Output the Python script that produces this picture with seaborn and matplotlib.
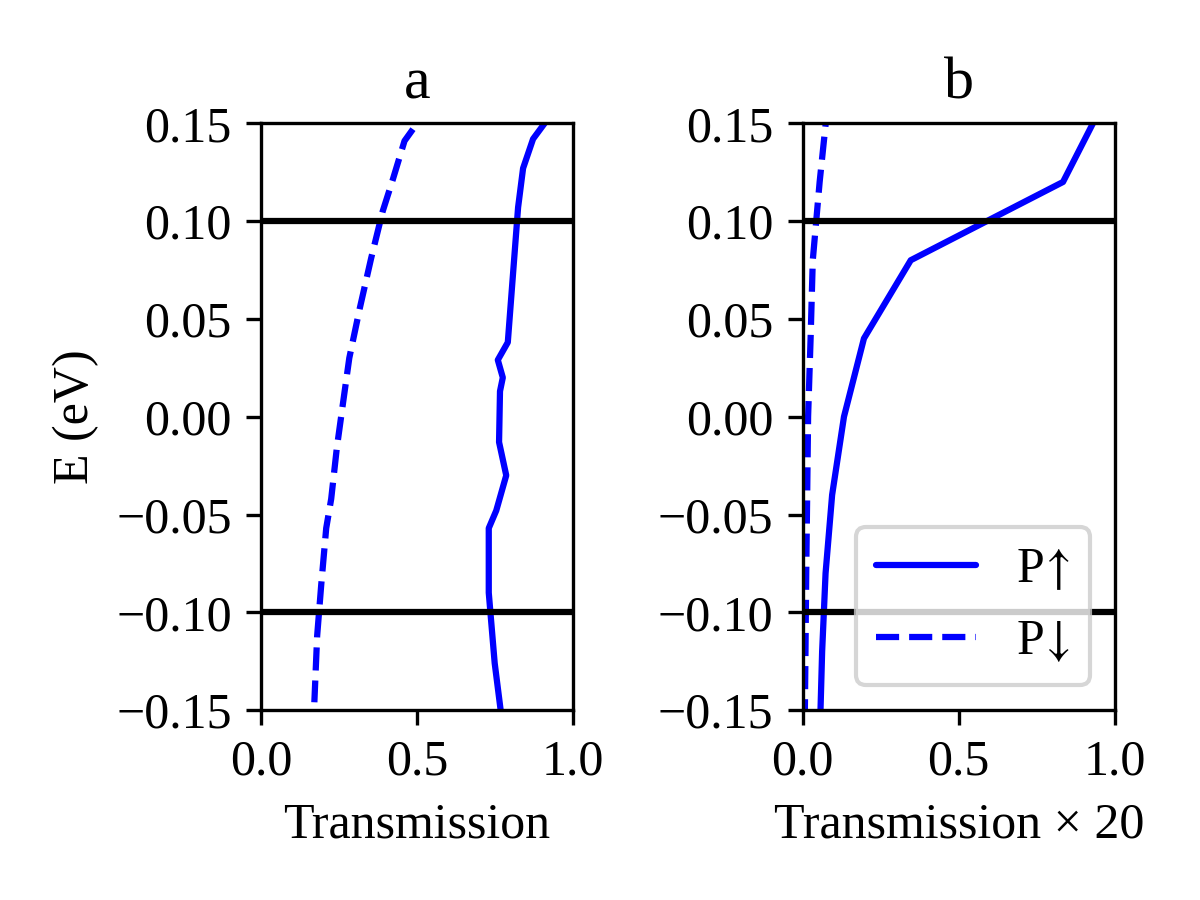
import numpy as np
import seaborn as sns
import matplotlib.pyplot as plt

# panel a : transmission vs energy
E_a_up = [0.160, 0.150, 0.142, 0.127, 0.107, 0.038, 0.029, 0.020, 0.013, -0.013,
          -0.030, -0.048, -0.057, -0.090, -0.126, -0.160]
T_a_up = [0.935, 0.909, 0.872, 0.840, 0.824, 0.791, 0.759, 0.775, 0.766, 0.763,
          0.786, 0.754, 0.730, 0.730, 0.749, 0.776]

E_a_dn = [0.147, 0.141, 0.121, 0.105, 0.081, 0.055, 0.030, 0.006, -0.016, -0.042,
          -0.057, -0.086, -0.112, -0.146]
T_a_dn = [0.487, 0.460, 0.422, 0.390, 0.353, 0.316, 0.283, 0.262, 0.243, 0.225,
          0.209, 0.193, 0.180, 0.171]

# panel b : transmission x 20, energy grid of 0.04 eV
E_b = [0.16, 0.12, 0.08, 0.04, 0.00, -0.04, -0.08, -0.12, -0.16]
T_b_up = [0.962, 0.834, 0.346, 0.196, 0.132, 0.094, 0.073, 0.062, 0.055]
T_b_dn = [0.080, 0.054, 0.032, 0.025, 0.017, 0.014, 0.011, 0.0086, 0.006]

E_window = [-0.1, 0.1]
y_ticks = [-0.15, -0.10, -0.05, 0.00, 0.05, 0.10, 0.15]
x_ticks = [0.0, 0.5, 1.0]

sns.set_style("ticks", rc={"axes.edgecolor": "black", "text.color": "black",
                           "axes.labelcolor": "black", "xtick.color": "black",
                           "ytick.color": "black"})
plt.rcParams['font.family'] = ['Liberation Serif', 'DejaVu Serif']
plt.rcParams['font.size'] = 12
plt.rcParams['mathtext.fontset'] = 'stix'

fig, (ax1, ax2) = plt.subplots(1, 2, figsize=(4, 3), dpi=300)
fig.subplots_adjust(left=0.2175, right=0.929, bottom=0.211, top=0.863, wspace=0.7365)

# left panel
sns.lineplot(x=T_a_up, y=E_a_up, sort=False, estimator=None, color='b', lw=1.5, ax=ax1)
sns.lineplot(x=T_a_dn, y=E_a_dn, sort=False, estimator=None, color='b', lw=1.5,
             linestyle='--', ax=ax1)

# right panel
sns.lineplot(x=T_b_up, y=E_b, sort=False, estimator=None, color='b', lw=1.5,
             label=r'P$\!\uparrow\!$', ax=ax2)
sns.lineplot(x=T_b_dn, y=E_b, sort=False, estimator=None, color='b', lw=1.5,
             linestyle='--', label=r'P$\!\downarrow\!$', ax=ax2)

for ax, title in zip([ax1, ax2], ['a', 'b']):
    for e in E_window:
        ax.axhline(e, color='k', lw=1.5)
    ax.set_xlim(0, 1)
    ax.set_ylim(-0.15, 0.15)
    ax.set_xticks(x_ticks)
    ax.set_yticks(y_ticks)
    ax.set_title(title)

ax1.set_xlabel('Transmission')
ax1.set_ylabel('E (eV)')
ax2.set_xlabel('Transmission × 20')
ax2.legend(loc='lower right')

fig.savefig('out.png', dpi=300)
